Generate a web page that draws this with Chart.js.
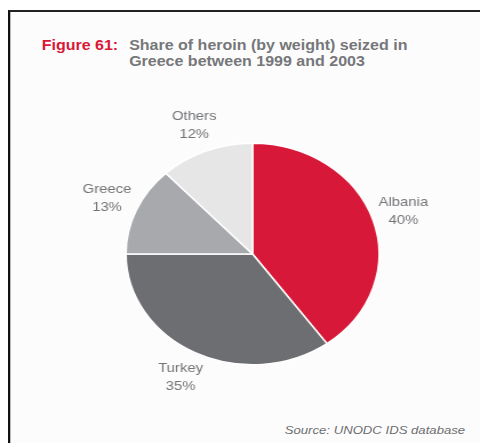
<!DOCTYPE html>
<html>
<head>
<meta charset="utf-8">
<script src="https://cdn.jsdelivr.net/npm/chart.js@4/dist/chart.umd.min.js"></script>
<style>
  html, body { margin: 0; padding: 0; background: #fff; }
  body { width: 480px; height: 443px; overflow: hidden; }
  /* the whole figure is slightly stretched horizontally in the original */
  #page {
    position: absolute; left: 0; top: 0; width: 420px; height: 443px;
    transform: scaleX(1.142857); transform-origin: 0 0;
    font-family: "Liberation Sans", Arial, sans-serif;
  }
  #frame {
    position: absolute; left: 7px; top: 10px; right: -10px; bottom: -10px;
    border-left: 2.5px solid #111; border-top: 2px solid #222;
    background: #fcfcfc;
  }
  .title { position: absolute; top: 37px; font-size: 14px; font-weight: bold; line-height: 16px; }
  #fig { left: 36.5px; color: #d81838; }
  #ttl { left: 113px; color: #76777a; }
  #source {
    position: absolute; right: 13px; top: 424px;
    font-size: 11.5px; font-style: italic; color: #6d6e71;
  }
  #chart-wrap { position: absolute; left: 20.9px; top: 103.5px; width: 400px; height: 300px; }
</style>
</head>
<body>
<div id="page">
  <div id="frame"></div>
  <div class="title" id="fig">Figure 61:</div>
  <div class="title" id="ttl">Share of heroin (by weight) seized in<br>Greece between 1999 and 2003</div>
  <div id="chart-wrap"><canvas id="pie"></canvas></div>
  <div id="source">Source: UNODC IDS database</div>
</div>
<script>
  const categories = ['Albania', 'Turkey', 'Greece', 'Others'];
  const shares = [40, 35, 13, 12];
  const sliceColors = ['#d81838', '#6d6e71', '#a7a9ac', '#e6e6e7'];

  // two-line labels (name + percent) placed just outside each slice
  const outsideLabels = {
    id: 'outsideLabels',
    afterDatasetsDraw(chart){
      const ctx = chart.ctx;
      const meta = chart.getDatasetMeta(0);
      ctx.save();
      ctx.font = '13px "Liberation Sans", Arial, sans-serif';
      ctx.fillStyle = '#737477';
      ctx.textAlign = 'center';
      ctx.textBaseline = 'middle';
      meta.data.forEach((arc, i) => {
        const p = arc.getProps(['x', 'y', 'startAngle', 'endAngle', 'outerRadius'], true);
        const mid = (p.startAngle + p.endAngle) / 2;
        const r = p.outerRadius + 28;
        const lx = p.x + Math.cos(mid) * r;
        const ly = p.y + Math.sin(mid) * r;
        ctx.fillText(categories[i], lx, ly - 9);
        ctx.fillText(shares[i] + '%', lx, ly + 9);
      });
      ctx.restore();
    }
  };

  document.addEventListener('DOMContentLoaded', () => {
    const ctx = document.getElementById('pie');
    new Chart(ctx, {
      type: 'pie',
      data: {
        labels: categories,
        datasets: [{
          data: shares,
          backgroundColor: sliceColors,
          borderColor: '#ffffff',
          borderWidth: 1.5
        }]
      },
      options: {
        responsive: true,
        maintainAspectRatio: false,
        animation: false,
        layout: { padding: { top: 38.5, bottom: 38.5, left: 80, right: 80 } },
        plugins: {
          legend: { display: false },
          tooltip: { enabled: false }
        }
      },
      plugins: [outsideLabels]
    });
  });
</script>
</body>
</html>
